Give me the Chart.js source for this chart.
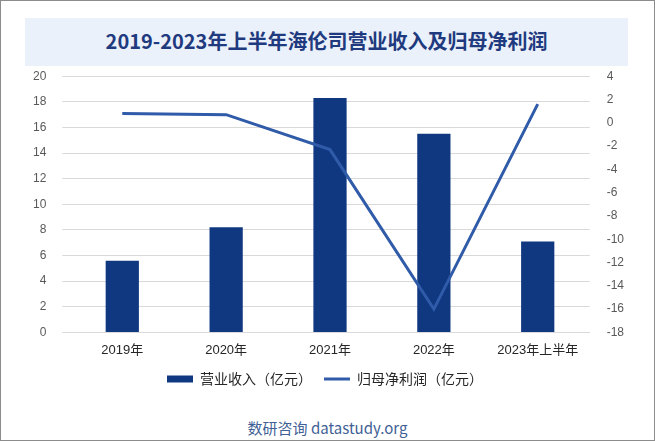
<!DOCTYPE html>
<html>
<head>
<meta charset="utf-8">
<script src="https://cdn.jsdelivr.net/npm/chart.js@4.4.0/dist/chart.umd.min.js"></script>
<style>
  html, body { margin: 0; padding: 0; background: #fff; }
  #frame { position: relative; width: 653px; height: 439px; border: 1px solid #8c8c8c; overflow: hidden; background: #fff; }
  #title { position: absolute; left: 24px; top: 17px; width: 603px; height: 48px; background: #eaf1fb;
    color: #1f3a7e; font: bold 20px "Noto Sans CJK SC", "DejaVu Serif", serif; text-align: center; line-height: 46px; }
  #wrap { position: absolute; left: 0; top: 52px; width: 653px; height: 343px; }
  #footer { position: absolute; left: 0; width: 653px; top: 416px; text-align: center;
    color: #3f5f95; font: 15px "Noto Sans CJK SC", "Liberation Sans", sans-serif; }
</style>
</head>
<body>
<div id="frame">
  <div id="title">2019-2023年上半年海伦司营业收入及归母净利润</div>
  <div id="wrap"><canvas id="chart"></canvas></div>
  <div id="footer">数研咨询 datastudy.org</div>
</div>
<script>
// chart data
const categories = ['2019年', '2020年', '2021年', '2022年', '2023年上半年'];
const revenue = [5.6, 8.2, 18.3, 15.5, 7.1];       // 营业收入（亿元）
const netProfit = [0.8, 0.7, -2.3, -16.0, 1.6];     // 归母净利润（亿元）

const tickFont = { family: '"Liberation Sans", "Noto Sans CJK SC", sans-serif', size: 12 };

new Chart(document.getElementById('chart'), {
    type: 'bar',
    data: {
        labels: categories,
        datasets: [
            { type: 'line', label: '归母净利润（亿元）', data: netProfit, yAxisID: 'y1',
              borderColor: '#2f5ba8', backgroundColor: '#2f5ba8', borderWidth: 3,
              pointRadius: 0, tension: 0, order: 0 },
            { type: 'bar', label: '营业收入（亿元）', data: revenue, yAxisID: 'y',
              backgroundColor: '#0f3881', barPercentage: 0.64, categoryPercentage: 0.5, order: 1 }
        ]
    },
    options: {
        responsive: true,
        maintainAspectRatio: false,
        animation: false,
        layout: { padding: { top: 0, left: 16, right: 21, bottom: 0 } },
        plugins: {
            legend: {
                position: 'bottom',
                reverse: true,
                labels: {
                    usePointStyle: true, pointStyleWidth: 26, boxHeight: 7, padding: 12, color: '#262626',
                    font: { family: '"Noto Sans CJK SC", sans-serif', size: 14 },
                    generateLabels: (chart) => {
                        const items = Chart.defaults.plugins.legend.labels.generateLabels(chart);
                        items.forEach(it => { it.pointStyle = it.datasetIndex === 0 ? 'line' : 'rect'; });
                        return items;
                    }
                }
            },
            tooltip: { enabled: false }
        },
        scales: {
            x: {
                grid: { display: false },
                border: { color: '#d9d9d9' },
                ticks: { color: '#262626', font: { family: '"Liberation Sans", "Noto Sans CJK SC", sans-serif', size: 13 }, padding: 2 }
            },
            y: {
                position: 'left', min: 0, max: 20,
                ticks: { stepSize: 2, color: '#595959', font: tickFont, padding: 16 },
                grid: { color: '#d9d9d9' },
                border: { display: false }
            },
            y1: {
                position: 'right', min: -18, max: 4,
                ticks: { stepSize: 2, color: '#595959', font: tickFont, padding: 9 },
                grid: { display: false },
                border: { display: false }
            }
        }
    }
});
</script>
</body>
</html>
